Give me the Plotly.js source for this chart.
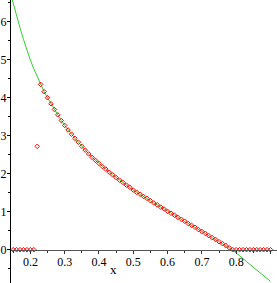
<!DOCTYPE html>
<html>
<head>
<meta charset="utf-8">
<script src="https://cdn.plot.ly/plotly-3.0.1.min.js"></script>
<style>html,body{margin:0;padding:0;background:#fff;}#chart{width:277px;height:283px;}</style>
</head>
<body>
<div id="chart"></div>
<script>
// Sample points (red markers)
var pointX = [0.15,0.16,0.17,0.18,0.19,0.20,0.21,0.22,0.23,0.24,0.25,0.26,0.27,0.28,0.29,0.30,
  0.31,0.32,0.33,0.34,0.35,0.36,0.37,0.38,0.39,0.40,0.41,0.42,0.43,0.44,0.45,0.46,0.47,0.48,0.49,0.50,
  0.51,0.52,0.53,0.54,0.55,0.56,0.57,0.58,0.59,0.60,0.61,0.62,0.63,0.64,0.65,0.66,0.67,0.68,0.69,0.70,
  0.71,0.72,0.73,0.74,0.75,0.76,0.77,0.78,0.79,0.80,0.81,0.82,0.83,0.84,0.85,0.86,0.87,0.88,0.89,0.90];
var pointY = [0,0,0,0,0,0,0,2.72,4.35,4.16,4.00,3.84,3.69,3.55,3.40,3.27,
  3.15,3.04,2.93,2.83,2.72,2.62,2.52,2.43,2.35,2.27,2.19,2.12,2.04,1.97,1.90,1.83,1.77,1.70,1.64,1.57,
  1.51,1.46,1.40,1.35,1.29,1.23,1.18,1.12,1.07,1.01,0.96,0.91,0.85,0.80,0.75,0.69,0.64,0.59,0.53,0.48,
  0.43,0.37,0.32,0.27,0.21,0.16,0.11,0.05,0,0,0,0,0,0,0,0,0,0,0,0];

// Continuous curve (green line)
var curveX = [0.145,0.15,0.16,0.17,0.18,0.19,0.20,0.21,0.22,0.23,0.24,0.25,0.26,0.27,0.28,0.29,0.30,
  0.31,0.32,0.33,0.34,0.35,0.36,0.37,0.38,0.39,0.40,0.41,0.42,0.43,0.44,0.45,0.46,0.47,0.48,0.49,0.50,
  0.51,0.52,0.53,0.54,0.55,0.56,0.57,0.58,0.59,0.60,0.61,0.62,0.63,0.64,0.65,0.66,0.67,0.68,0.69,0.70,
  0.71,0.72,0.73,0.74,0.75,0.76,0.77,0.78,0.79,0.80,0.81,0.82,0.83,0.84,0.85,0.86,0.87,0.88,0.89,0.90];
var curveY = [6.65,6.47,6.15,5.83,5.53,5.25,4.99,4.76,4.55,4.35,4.16,4.00,3.84,3.69,3.55,3.40,3.27,
  3.15,3.04,2.93,2.83,2.72,2.62,2.52,2.43,2.35,2.27,2.19,2.12,2.04,1.97,1.90,1.83,1.77,1.70,1.64,1.57,
  1.51,1.46,1.40,1.35,1.29,1.23,1.18,1.12,1.07,1.01,0.96,0.91,0.85,0.80,0.75,0.69,0.64,0.59,0.53,0.48,
  0.43,0.37,0.32,0.27,0.21,0.16,0.11,0.05,-0.01,-0.08,-0.15,-0.23,-0.31,-0.39,-0.46,-0.54,-0.61,-0.68,-0.76,-0.83];

var xTicks = [0.2,0.3,0.4,0.5,0.6,0.7,0.8,0.9];
var xTickText = ['0.2','0.3','0.4','0.5','0.6','0.7','0.8','0.9'];
var yTicks = [0,1,2,3,4,5,6];
var yTickText = ['0','1','2','3','4','5','6'];

var yMin = -0.876, yMax = 6.571;
var tickFont = {family: 'Liberation Serif, DejaVu Serif, serif', size: 12, color: '#000'};

var traces = [
  {x: curveX, y: curveY, type: 'scatter', mode: 'lines',
   line: {color: '#33cc33', width: 1}, hoverinfo: 'skip'},
  {x: pointX, y: pointY, type: 'scatter', mode: 'markers',
   marker: {symbol: 'diamond-open', size: 3.5, color: '#ff0000', line: {width: 1, color: '#ff0000'}},
   hoverinfo: 'skip'}
];

var layout = {
  width: 277, height: 283,
  margin: {l: 11, r: 0, t: 0, b: 0, pad: 0},
  paper_bgcolor: '#fff', plot_bgcolor: '#fff',
  showlegend: false,
  xaxis: {
    range: [0.1435, 0.919], anchor: 'free', position: (0 - yMin) / (yMax - yMin),
    showgrid: false, zeroline: false, showline: true, linecolor: '#555', linewidth: 1,
    tickmode: 'array', tickvals: xTicks, ticktext: xTickText,
    ticks: 'outside', ticklen: 3, tickcolor: '#333', tickfont: tickFont,
    ticklabelstandoff: -2,
    minor: {dtick: 0.05, tick0: 0.15, ticks: 'outside', ticklen: 2, tickcolor: '#333'}
  },
  yaxis: {
    range: [yMin, yMax],
    showgrid: false, zeroline: false, showline: true, linecolor: '#000', linewidth: 1,
    tickmode: 'array', tickvals: yTicks, ticktext: yTickText,
    ticks: 'outside', ticklen: 3, tickcolor: '#000', tickfont: tickFont,
    ticklabelstandoff: -2,
    minor: {dtick: 0.5, tick0: 0, ticks: 'outside', ticklen: 2, tickcolor: '#000'}
  },
  annotations: [
    {x: 0.4435, y: -0.51, xref: 'x', yref: 'y', text: 'x', showarrow: false,
     xanchor: 'center', yanchor: 'middle',
     font: {family: 'Liberation Serif, DejaVu Serif, serif', size: 13, color: '#000'}}
  ]
};

Plotly.newPlot('chart', traces, layout, {staticPlot: true, displayModeBar: false});
</script>
</body>
</html>
